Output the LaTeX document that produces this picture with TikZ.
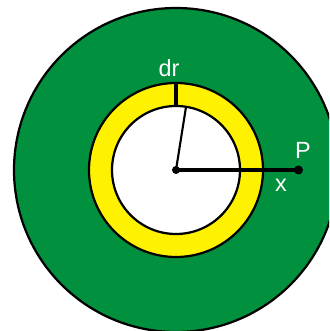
\documentclass[tikz,border=0pt]{standalone}
\usepackage{fontspec}
\setmainfont{Liberation Sans}
\definecolor{ringgreen}{RGB}{0,144,62}
\definecolor{ringyellow}{RGB}{255,242,0}
\begin{document}
\begin{tikzpicture}[x=0.03cm, y=0.03cm,
    lbl/.style={text=white, font=\fontsize{20}{22}\selectfont, inner sep=0pt},
    rim/.style={draw=black, line width=1.9pt}]
    \useasboundingbox (0,0) rectangle (329,331);
    \clip (0,0) rectangle (329,331);
    % Coordinates
    \coordinate (O) at (176,161);
    \coordinate (P) at (298.5,161);
    \coordinate (R) at (186,224);
    \coordinate (S) at (176,248);
    \coordinate (T) at (176,225);

    % Drawing
    \fill[white] (0,0) rectangle (329,331);
    \draw[rim, fill=ringgreen] (O) circle (162);
    \draw[rim, fill=ringyellow] (O) circle (87);
    \draw[rim, fill=white] (O) circle (64);
    \draw[line width=2.6pt] (S) -- (T);
    \draw[line width=1.8pt] (O) -- (R);
    \draw[line width=2.6pt] (O) -- (P);
    \fill[black] (O) circle (4);
    \fill[black] (P) circle (4.5);
    \node[lbl] (dr) at (169,263) {dr};
    \node[lbl] (r) at (173,193) {r};
    \node[lbl] (p) at (303,181) {P};
    \node[lbl] (x) at (281,146) {x};
\end{tikzpicture}
\end{document}
